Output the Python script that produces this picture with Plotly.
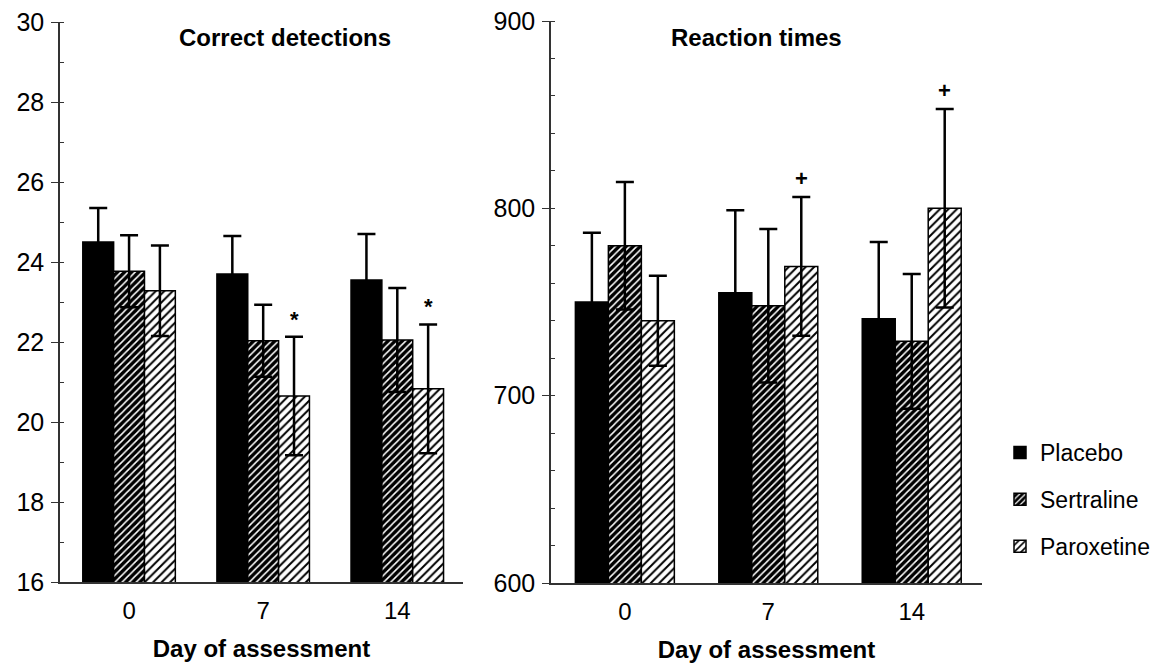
import plotly.graph_objects as go

days = ["0", "7", "14"]
xpos = [0, 1, 2]
groups = ["Placebo", "Sertraline", "Paroxetine"]

# Correct detections
cd_placebo = [24.5, 23.7, 23.55]
cd_placebo_err = [0.85, 0.95, 1.15]
cd_sertraline = [23.77, 22.03, 22.05]
cd_sertraline_err = [0.9, 0.9, 1.3]
cd_paroxetine = [23.28, 20.65, 20.83]
cd_paroxetine_err = [1.13, 1.48, 1.61]

# Reaction times
rt_placebo = [750, 755, 741]
rt_placebo_err = [37, 44, 41]
rt_sertraline = [780, 748, 729]
rt_sertraline_err = [34, 41, 36]
rt_paroxetine = [740, 769, 800]
rt_paroxetine_err = [24, 37, 53]

cd_marks = ["", "*", "*"]
rt_marks = ["", "+", "+"]

FONT = "Liberation Sans, Arial, Helvetica, sans-serif"

# page body has an 8px margin; work in screen pixels and convert
OFF = 8
W, H = 1172 - OFF, 664 - OFF
PLOT_TOP, PLOT_BOT = 21, 583  # screen px
top_m = PLOT_TOP - OFF
bot_m = H - (PLOT_BOT - OFF)
plot_h = H - top_m - bot_m


def px_x(sx):
    return (sx - OFF) / W


def px_y(sy):
    return (PLOT_BOT - sy) / plot_h


styles = {
    "Placebo": dict(color="black", pattern=None),
    "Sertraline": dict(color="black", pattern=dict(shape="/", bgcolor="black", fgcolor="white",
                                                   size=5, solidity=0.3, fillmode="replace")),
    "Paroxetine": dict(color="white", pattern=dict(shape="/", bgcolor="white", fgcolor="black",
                                                   size=6, solidity=0.33, fillmode="replace")),
}

fig = go.Figure()


def add_bars(vals, errs, xa, ya, show):
    for name, v, e in zip(groups, vals, errs):
        st = styles[name]
        marker = dict(color=st["color"], line=dict(color="black", width=1.5))
        if st["pattern"] is not None:
            marker["pattern"] = st["pattern"]
        fig.add_trace(go.Bar(
            x=xpos, y=v, name=name, marker=marker,
            error_y=dict(type="data", array=e, visible=True, color="black", thickness=2.5, width=9),
            xaxis=xa, yaxis=ya, showlegend=show, legendgroup=name, offsetgroup=name,
        ))


add_bars([cd_placebo, cd_sertraline, cd_paroxetine],
         [cd_placebo_err, cd_sertraline_err, cd_paroxetine_err], "x", "y", True)
add_bars([rt_placebo, rt_sertraline, rt_paroxetine],
         [rt_placebo_err, rt_sertraline_err, rt_paroxetine_err], "x2", "y2", False)

bargap = 0.31
bw = (1 - bargap) / 3

annotations = []
for i, m in enumerate(cd_marks):
    if m:
        annotations.append(dict(x=xpos[i] + bw, y=cd_paroxetine[i] + cd_paroxetine_err[i],
                                xref="x", yref="y", text="<b>" + m + "</b>", showarrow=False,
                                yanchor="bottom", yshift=3, font=dict(size=22, family=FONT, color="black")))
for i, m in enumerate(rt_marks):
    if m:
        annotations.append(dict(x=xpos[i] + bw, y=rt_paroxetine[i] + rt_paroxetine_err[i],
                                xref="x2", yref="y2", text="<b>" + m + "</b>", showarrow=False,
                                yanchor="bottom", yshift=4, font=dict(size=22, family=FONT, color="black")))

annotations.append(dict(x=px_x(285), y=px_y(38), xref="paper", yref="paper",
                        xanchor="center", yanchor="middle", text="<b>Correct detections</b>",
                        showarrow=False, font=dict(size=24, family=FONT, color="black")))
annotations.append(dict(x=px_x(756), y=px_y(37), xref="paper", yref="paper",
                        xanchor="center", yanchor="middle", text="<b>Reaction times</b>",
                        showarrow=False, font=dict(size=24, family=FONT, color="black")))

axis_common = dict(showline=True, linecolor="#333333", linewidth=1.5, zeroline=False, showgrid=False,
                   tickfont=dict(size=25, family=FONT, color="black"), ticks="outside", ticklen=7,
                   tickcolor="#333333", tickwidth=1.2, ticklabelstandoff=2, ticklabeloverflow="allow")
minor_common = dict(ticks="inside", ticklen=4, tickcolor="#333333", tickwidth=1)

xaxis_common = dict(showline=True, linecolor="#333333", linewidth=1.5, zeroline=False, showgrid=False,
                    tickmode="array", tickvals=xpos, ticktext=days, ticks="",
                    tickfont=dict(size=24, family=FONT, color="black"), range=[-0.515, 2.49],
                    ticklabelstandoff=6,
                    title=dict(text="<b>Day of assessment</b>", font=dict(size=24, family=FONT, color="black"),
                               standoff=18))

fig.update_layout(
    width=W, height=H,
    margin=dict(l=0, r=0, t=top_m, b=bot_m),
    paper_bgcolor="white", plot_bgcolor="white",
    barmode="group", bargap=bargap, bargroupgap=0,
    font=dict(family=FONT, color="black"),
    xaxis=dict(domain=[px_x(60), px_x(463)], anchor="y", **xaxis_common),
    xaxis2=dict(domain=[px_x(551), px_x(982)], anchor="y2", **xaxis_common),
    yaxis=dict(domain=[px_y(582), px_y(22)], anchor="x", range=[16, 30], dtick=2,
               minor=dict(minor_common, dtick=1), **axis_common),
    yaxis2=dict(domain=[0, 1], anchor="x2", range=[600, 900], dtick=100,
                minor=dict(minor_common, dtick=20), **axis_common),
    legend=dict(x=px_x(1000), xanchor="left", y=px_y(431), yanchor="top",
                font=dict(size=23, family=FONT, color="black"), tracegroupgap=14,
                bgcolor="rgba(0,0,0,0)", itemwidth=30),
    annotations=annotations,
)

fig.write_html("out.html")
